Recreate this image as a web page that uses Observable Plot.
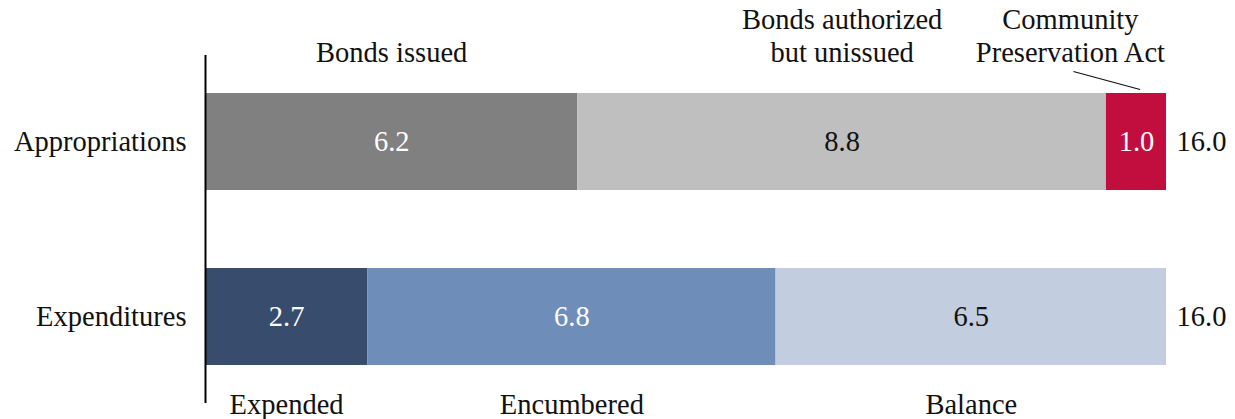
<!DOCTYPE html>
<html>
<head>
<meta charset="utf-8">
<script src="https://cdn.jsdelivr.net/npm/d3@7"></script>
<script src="https://cdn.jsdelivr.net/npm/@observablehq/plot@0.6"></script>
<style>
  html, body { margin: 0; padding: 0; background: #fff; }
  #chart svg { display: block; }
  #chart svg, #chart svg text, #chart svg g { font-family: "Liberation Serif", "Times New Roman", serif !important; }
</style>
</head>
<body>
<div id="chart"></div>
<script>
// ---- Data ----
const categories = ["Appropriations", "Expenditures"];

const appropriationSegments = ["Bonds issued", "Bonds authorized\nbut unissued", "Community\nPreservation Act"];
const appropriationValues = [6.2, 8.8, 1.0];
const appropriationColors = ["#808080", "#bfbfbf", "#c20e3e"];
const appropriationTextColors = ["#ffffff", "#111111", "#ffffff"];

const expenditureSegments = ["Expended", "Encumbered", "Balance"];
const expenditureValues = [2.7, 6.8, 6.5];
const expenditureColors = ["#384d6e", "#6e8db8", "#c2cde0"];
const expenditureTextColors = ["#ffffff", "#ffffff", "#111111"];

const totals = [16.0, 16.0];

// label position for the Community Preservation Act callout (data units)
const cpaLabelX = 14.4;
const cpaLeaderStart = 14.45;
const cpaLeaderEnd = 15.56;

// ---- Build rows ----
function buildRows(cat, names, values, colors, textColors) {
  let acc = 0;
  return names.map((name, i) => {
    const x1 = acc, x2 = acc + values[i];
    acc = x2;
    return {cat, name, value: values[i], x1, x2, mid: (x1 + x2) / 2, color: colors[i], textColor: textColors[i]};
  });
}
const rows = [
  ...buildRows(categories[0], appropriationSegments, appropriationValues, appropriationColors, appropriationTextColors),
  ...buildRows(categories[1], expenditureSegments, expenditureValues, expenditureColors, expenditureTextColors)
];
const topLabels = rows.filter(d => d.cat === categories[0]).map((d, i) => ({
  cat: d.cat, name: d.name, x: i === 2 ? cpaLabelX : d.mid
}));
const bottomLabels = rows.filter(d => d.cat === categories[1]);
const leader = [{cat: categories[0], x1: cpaLeaderStart, x2: cpaLeaderEnd}];
const totalRows = categories.map((c, i) => ({cat: c, total: totals[i]}));

const font = "Liberation Serif, Times New Roman, serif";
const fs = 28.5;

const chart = Plot.plot({
  width: 1235,
  height: 419,
  marginLeft: 205,
  marginRight: 69,
  marginTop: 55,
  marginBottom: 16,
  style: {fontFamily: font, fontSize: fs + "px", color: "#111", background: "#fff"},
  x: {domain: [0, 16], axis: null},
  y: {domain: categories, paddingInner: 0.4457, paddingOuter: 0.217, align: 0.5, label: null, tickSize: 0, tickPadding: 19},
  marks: [
    Plot.barX(rows, {y: "cat", x1: "x1", x2: "x2", fill: d => d.color}),
    Plot.ruleX([0], {stroke: "#000", strokeWidth: 2}),
    Plot.axisY({tickSize: 0, tickPadding: 19, fontSize: fs, label: null, fontFamily: font}),
    Plot.text(rows, {y: "cat", x: "mid", text: d => d.value.toFixed(1), fill: d => d.textColor, fontSize: fs, fontFamily: font}),
    Plot.text(totalRows, {y: "cat", x: "total", text: d => d.total.toFixed(1), textAnchor: "start", dx: 10, fill: "#111", fontSize: fs, fontFamily: font}),
    Plot.text(topLabels, {y: "cat", x: "x", text: "name", lineAnchor: "bottom", lineHeight: 1.16, dy: -80, fill: "#111", fontSize: fs, fontFamily: font}),
    Plot.text(bottomLabels, {y: "cat", x: "mid", text: "name", lineAnchor: "bottom", dy: 97, fill: "#111", fontSize: fs, fontFamily: font}),
    Plot.link(leader, {
      y: "cat", x1: "x1", x2: "x2", stroke: "#111", strokeWidth: 1.2,
      render(index, scales, values, dims, context, next) {
        const bw = scales.y.bandwidth ? scales.y.bandwidth() : 0;
        const top = values.y1.map(v => v - bw / 2);
        const v2 = {...values,
          y1: top.map(v => v - 22),
          y2: top.map(v => v - 4)};
        return next(index, scales, v2, dims, context);
      }
    })
  ]
});
document.getElementById("chart").appendChild(chart);
</script>
</body>
</html>
